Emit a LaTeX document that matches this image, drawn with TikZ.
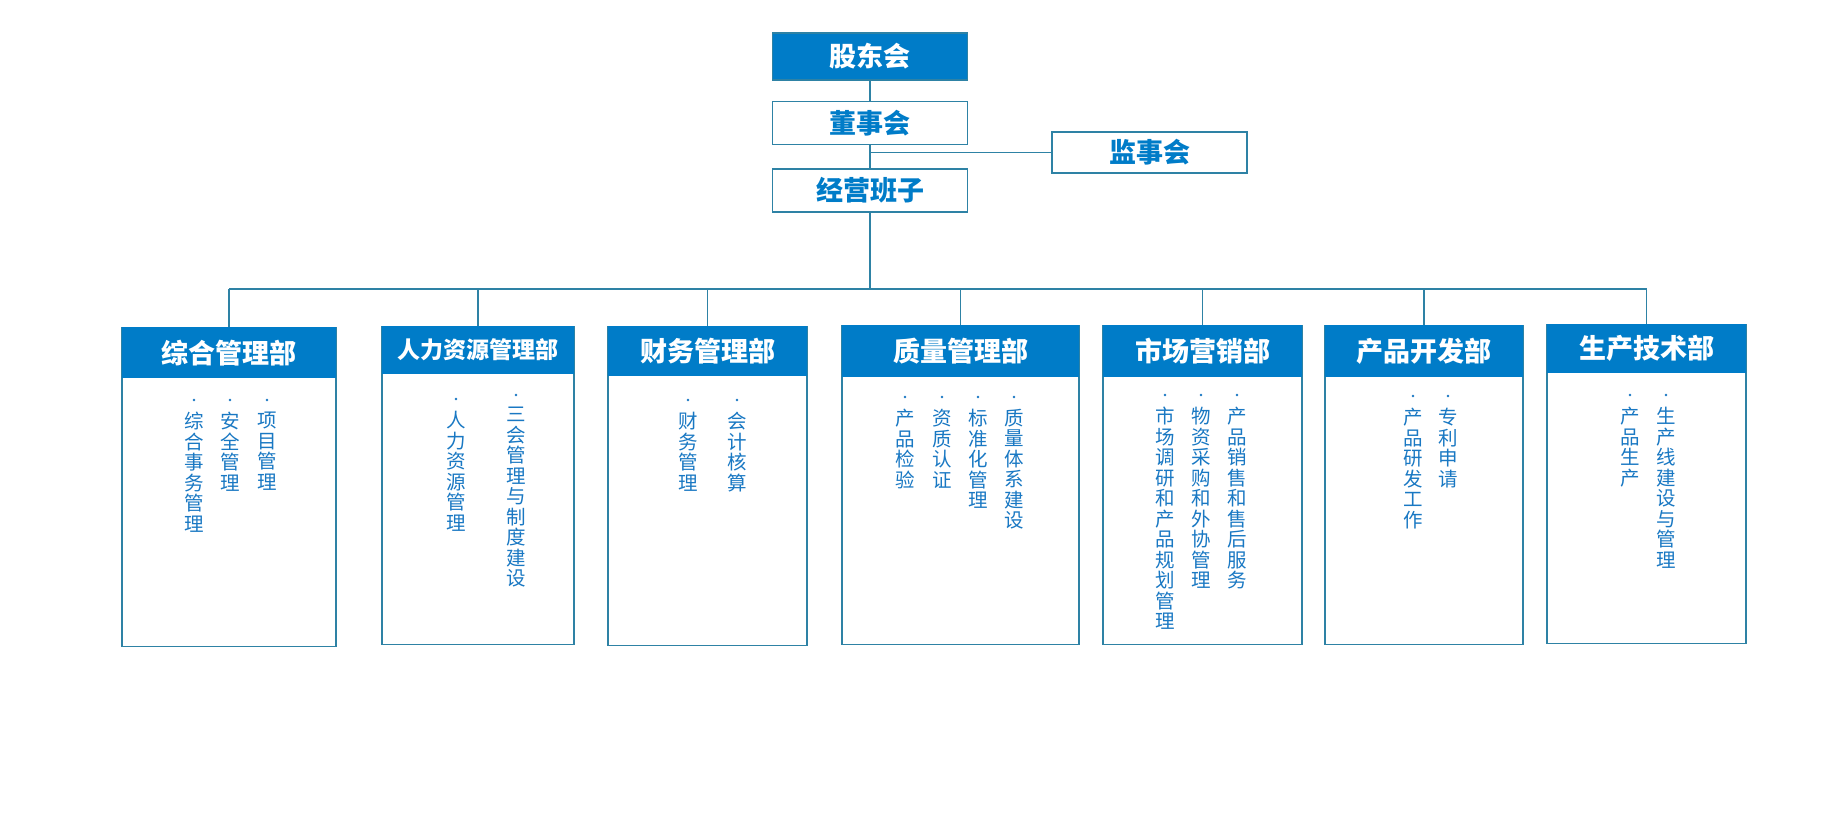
\documentclass[tikz,border=0pt]{standalone}
\usepackage{fontspec}
\setmainfont{Noto Sans CJK SC}
\XeTeXlinebreaklocale "zh"
\XeTeXlinebreakskip=0pt plus 1pt
\definecolor{hdblue}{RGB}{0,124,200}
\definecolor{lnblue}{RGB}{46,130,165}
\definecolor{txblue}{RGB}{25,120,195}

% department box: name, centre x, top y, width, header height, body height, label
\newcommand\dept[8][]{%
  \node[deptbody, minimum width=#5, minimum height=#7, anchor=north] (#2) at (#3,#4) {};
  \node[depthead, #1, minimum width=#5, minimum height=#6, anchor=north] (#2-h) at (#2.north) {#8};
}
% one vertical duty column with its dot: name, x, dot y, text
\newcommand\duty[4]{%
  \node[dutytext] (#1) at (#2,{#3+12}) {#4};
  \fill[txblue] (#2,#3) circle (1.3);
}

\begin{document}
\begin{tikzpicture}[x=1pt,y=-1pt]

\tikzstyle{topbox}=[draw=lnblue, line width=1.3pt, minimum width=195,
minimum height=43, inner sep=0, text=hdblue, font=\fontsize{27}{30}\selectfont\bfseries]
\tikzstyle{deptbody}=[draw=lnblue, line width=1.3pt, inner sep=0]
\tikzstyle{depthead}=[fill=hdblue, inner sep=0, text=white, font=\fontsize{27}{30}\selectfont\bfseries]
\tikzstyle{dutytext}=[anchor=north, text width=21pt, align=center, inner sep=0,
text=txblue, font=\fontsize{19.5}{20.5}\selectfont]
\tikzstyle{conn}=[draw=lnblue, line width=1.3pt]

\useasboundingbox[fill=white] (0,0) rectangle (1832,827);

% top of the chart
\node[topbox, fill=hdblue, text=white, minimum height=47] (gd) at (870,56.5) {股东会};
\node[topbox] (ds) at (870,123) {董事会};
\node[topbox] (jy) at (870,190.5) {经营班子};
\node[topbox, minimum height=41] (js) at (1149.5,152.5) {监事会};
\coordinate (bus) at (870,289);

\draw[conn] (gd) -- (ds);
\draw[conn] (ds) -- (jy);
\draw[conn] (ds.south |- js.west) -- (js.west);
\draw[conn] (jy) -- (bus);

% departments
\dept{zh}{229}{327}{214}{51}{319}{综合管理部}
\dept[font=\fontsize{23}{26}\selectfont\bfseries]{rl}{478}{326}{192}{48}{318}{人力资源管理部}
\dept{cw}{707.5}{326}{199}{50}{319}{财务管理部}
\dept{zl}{960.5}{325}{237}{52}{319}{质量管理部}
\dept{sc}{1202.5}{325}{199}{52}{319}{市场营销部}
\dept{cp}{1424}{325}{198}{52}{319}{产品开发部}
\dept{sj}{1646.5}{324}{199}{49}{319}{生产技术部}

\draw[conn] (zh-h.north |- bus) -- (sj-h.north |- bus);
\foreach \d in {zh,rl,cw,zl,sc,cp,sj}
  \draw[conn] (\d-h.north) -- (\d-h.north |- bus);

% duties
\duty{zh1}{194}{400}{综合事务管理}
\duty{zh2}{230}{400}{安全管理}
\duty{zh3}{267}{400}{项目管理}

\duty{rl1}{456}{399}{人力资源管理}
\duty{rl2}{516}{395}{三会管理与制度建设}

\duty{cw1}{688}{400}{财务管理}
\duty{cw2}{737}{400}{会计核算}

\duty{zl1}{905}{397}{产品检验}
\duty{zl2}{942}{397}{资质认证}
\duty{zl3}{978}{397}{标准化管理}
\duty{zl4}{1014}{397}{质量体系建设}

\duty{sc1}{1165}{395}{市场调研和产品规划管理}
\duty{sc2}{1201}{395}{物资采购和外协管理}
\duty{sc3}{1237}{395}{产品销售和售后服务}

\duty{cp1}{1413}{396}{产品研发工作}
\duty{cp2}{1448}{396}{专利申请}

\duty{sj1}{1630}{395}{产品生产}
\duty{sj2}{1666}{395}{生产线建设与管理}

\end{tikzpicture}
\end{document}
